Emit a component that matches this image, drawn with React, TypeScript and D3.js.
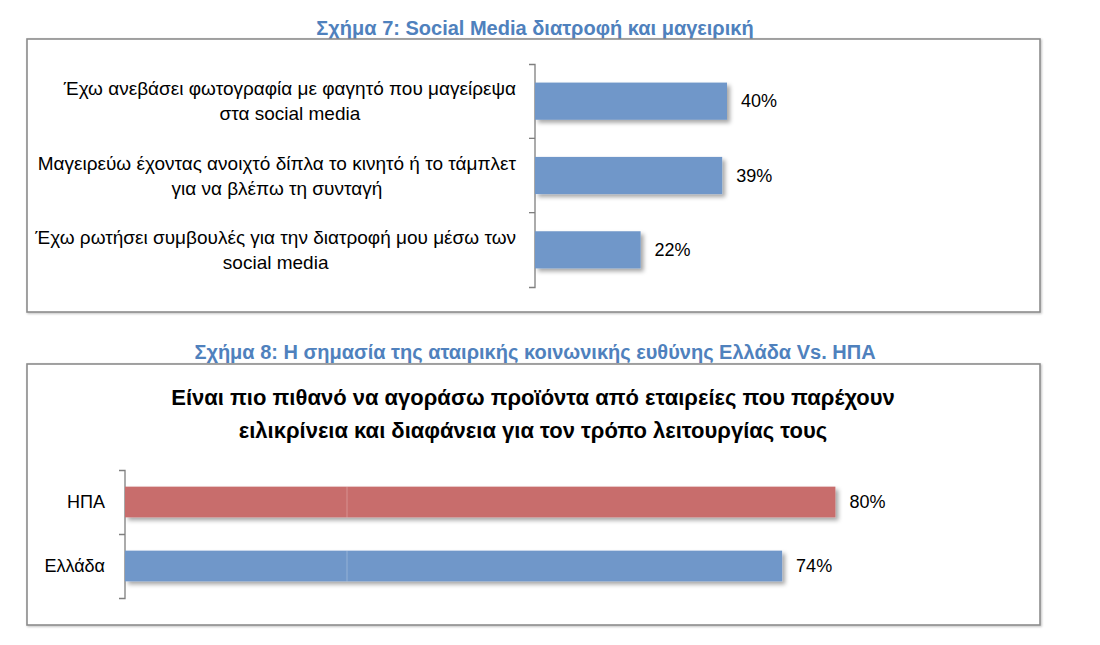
import React, { useEffect, useRef } from "react";
import * as d3 from "d3";

const title1 = "Σχήμα 7: Social Media διατροφή και μαγειρική";
const categories1 = [
  ["Έχω ανεβάσει φωτογραφία με φαγητό που μαγείρεψα", "στα social media"],
  ["Μαγειρεύω έχοντας ανοιχτό δίπλα το κινητό ή το τάμπλετ", "για να βλέπω τη συνταγή"],
  ["Έχω ρωτήσει συμβουλές για την διατροφή μου μέσω των", "social media"],
];
const values1 = [40, 39, 22];

const title2 = "Σχήμα 8: Η σημασία της αταιρικής κοινωνικής ευθύνης Ελλάδα Vs. ΗΠΑ";
const chartTitle2 = [
  "Είναι πιο πιθανό να αγοράσω προϊόντα από εταιρείες που παρέχουν",
  "ειλικρίνεια και διαφάνεια για τον τρόπο λειτουργίας τους",
];
const categories2 = ["ΗΠΑ", "Ελλάδα"];
const values2 = [80, 74];
const colors2 = ["#C86D6C", "#7097C9"];

const FONT = "'Liberation Sans', Arial, sans-serif";

export default function App() {
  const ref = useRef<SVGSVGElement>(null);

  useEffect(() => {
    const svg = d3.select(ref.current);
    svg.selectAll("*").remove();

    const defs = svg.append("defs");
    const f = defs.append("filter").attr("id", "shadow").attr("x", "-5%").attr("y", "-20%").attr("width", "115%").attr("height", "160%");
    f.append("feDropShadow").attr("dx", 3).attr("dy", 3).attr("stdDeviation", 2).attr("flood-color", "#000").attr("flood-opacity", 0.35);
    const fb = defs.append("filter").attr("id", "fshadow").attr("x", "-2%").attr("y", "-2%").attr("width", "104%").attr("height", "106%");
    fb.append("feDropShadow").attr("dx", 1).attr("dy", 1).attr("stdDeviation", 1).attr("flood-color", "#000").attr("flood-opacity", 0.25);

    // Titles
    svg.append("text").attr("x", 535).attr("y", 35).attr("text-anchor", "middle")
      .attr("font-family", FONT).attr("font-weight", "bold").attr("font-size", 20).attr("fill", "#4F81BD").text(title1);
    svg.append("text").attr("x", 535).attr("y", 359).attr("text-anchor", "middle")
      .attr("font-family", FONT).attr("font-weight", "bold").attr("font-size", 20).attr("fill", "#4F81BD").text(title2);

    // Frames
    svg.append("rect").attr("x", 27).attr("y", 39).attr("width", 1013).attr("height", 273)
      .attr("fill", "#fff").attr("stroke", "#8c8c8c").attr("stroke-width", 1.6).attr("filter", "url(#fshadow)");
    svg.append("rect").attr("x", 27).attr("y", 364).attr("width", 1013).attr("height", 261)
      .attr("fill", "#fff").attr("stroke", "#8c8c8c").attr("stroke-width", 1.6).attr("filter", "url(#fshadow)");

    // ---------- Chart 1 ----------
    const x1 = d3.scaleLinear().domain([0, 100]).range([535, 1015]);
    const y1 = d3.scaleBand().domain(d3.range(values1.length).map(String)).range([64, 287]).paddingInner(0.5).paddingOuter(0.25);
    const g1 = svg.append("g");
    const axis1 = d3.axisLeft(y1).tickSize(0).tickFormat(() => "");
    const ag = g1.append("g").attr("transform", `translate(${x1(0)},0)`).call(axis1);
    ag.select(".domain").attr("stroke", "#7f7f7f").attr("stroke-width", 1.3).attr("d", `M-6,64.5H0V287.5H-6`);
    d3.range(1, values1.length).forEach((i) => {
      const yy = 64 + i * (223 / values1.length);
      g1.append("line").attr("x1", x1(0) - 6).attr("x2", x1(0)).attr("y1", yy).attr("y2", yy).attr("stroke", "#7f7f7f").attr("stroke-width", 1.3);
    });
    values1.forEach((v, i) => {
      const yb = y1(String(i))!;
      g1.append("rect").attr("x", x1(0)).attr("y", yb).attr("width", x1(v) - x1(0)).attr("height", y1.bandwidth())
        .attr("fill", "#7097C9").attr("filter", "url(#shadow)");
      g1.append("text").attr("x", x1(v) + 14).attr("y", yb + y1.bandwidth() / 2).attr("dy", "0.35em")
        .attr("font-family", FONT).attr("font-size", 18).attr("fill", "#000").text(`${v}%`);
      const cy = yb + y1.bandwidth() / 2;
      const t1 = g1.append("text").attr("x", 516).attr("y", cy - 12.5).attr("dy", "0.35em").attr("text-anchor", "end")
        .attr("font-family", FONT).attr("font-size", 19).attr("fill", "#000").text(categories1[i][0]);
      const w = (t1.node() as SVGTextElement).getComputedTextLength();
      g1.append("text").attr("x", 516 - w / 2).attr("y", cy + 12.5).attr("dy", "0.35em").attr("text-anchor", "middle")
        .attr("font-family", FONT).attr("font-size", 19).attr("fill", "#000").text(categories1[i][1]);
    });

    // ---------- Chart 2 ----------
    chartTitle2.forEach((line, i) => {
      svg.append("text").attr("x", 533).attr("y", 397 + i * 33).attr("dy", "0.35em").attr("text-anchor", "middle")
        .attr("font-family", FONT).attr("font-weight", "bold").attr("font-size", 22).attr("fill", "#000").text(line);
    });
    const x2 = d3.scaleLinear().domain([0, 100]).range([125, 1013]);
    const y2 = d3.scaleBand().domain(categories2).range([470, 598]).paddingInner(0.52).paddingOuter(0.26);
    const g2 = svg.append("g");
    g2.append("path").attr("d", `M${x2(0) - 6},470.5H${x2(0)}V598.5H${x2(0) - 6}M${x2(0) - 6},534.5H${x2(0)}`)
      .attr("fill", "none").attr("stroke", "#7f7f7f").attr("stroke-width", 1.3);
    categories2.forEach((c, i) => {
      const yb = y2(c)!;
      const v = values2[i];
      g2.append("rect").attr("x", x2(0)).attr("y", yb).attr("width", x2(v) - x2(0)).attr("height", y2.bandwidth())
        .attr("fill", colors2[i]).attr("filter", "url(#shadow)");
      g2.append("line").attr("x1", x2(25)).attr("x2", x2(25)).attr("y1", yb).attr("y2", yb + y2.bandwidth())
        .attr("stroke", "#ffffff").attr("stroke-opacity", 0.25).attr("stroke-width", 1);
      g2.append("text").attr("x", x2(v) + 14).attr("y", yb + y2.bandwidth() / 2).attr("dy", "0.35em")
        .attr("font-family", FONT).attr("font-size", 18).attr("fill", "#000").text(`${v}%`);
      g2.append("text").attr("x", 105).attr("y", yb + y2.bandwidth() / 2).attr("dy", "0.35em").attr("text-anchor", "end")
        .attr("font-family", FONT).attr("font-size", 18).attr("fill", "#000").text(c);
    });
  }, []);

  return (
    <svg ref={ref} width={1100} height={645} style={{ position: "absolute", left: 0, top: 0, background: "#fff" }} />
  );
}
